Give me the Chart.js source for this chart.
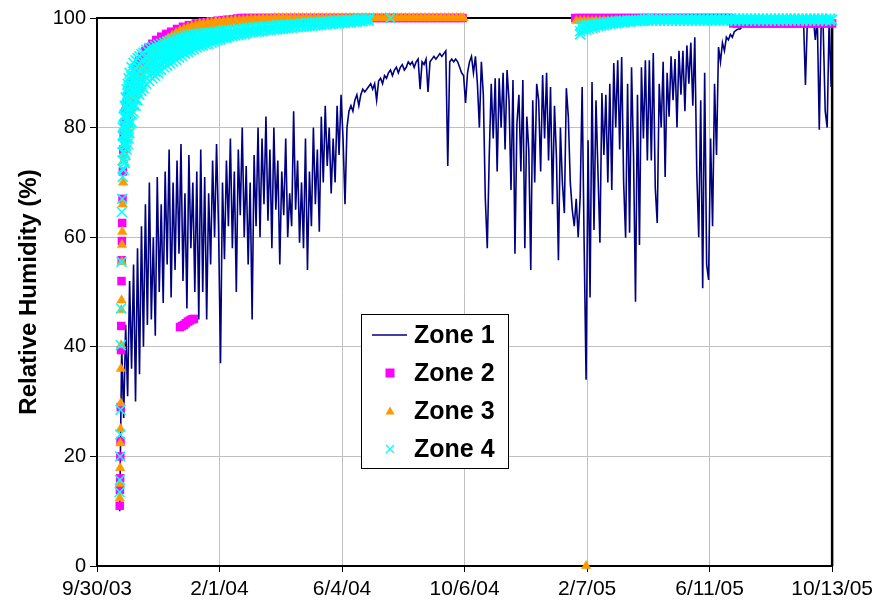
<!DOCTYPE html>
<html>
<head>
<meta charset="utf-8">
<script src="https://cdn.jsdelivr.net/npm/chart.js@4.4.1/dist/chart.umd.min.js"></script>
<style>
  html, body { margin: 0; padding: 0; background: #ffffff; }
  canvas { display: block; }
</style>
</head>
<body>
<canvas id="rh" width="878" height="608"></canvas>
<script>
// Time axis: days since 9/30/03, labelled every 124 days
const xTickLabels = ['9/30/03', '2/1/04', '6/4/04', '10/6/04', '2/7/05', '6/11/05', '10/13/05'];
const xTickStepDays = 124;
const yTicks = [0, 20, 40, 60, 80, 100];

// Zone 1 relative humidity (%), one reading every 2 days starting on day 23
const zone1StartDay = 23;
const zone1StepDays = 2;
const zone1 = [
  10, 40, 27, 44, 31, 52, 36, 55, 30, 58,            // day 23
  35, 62, 40, 66, 44, 70, 45, 60, 42, 71,            // day 43
  50, 66, 48, 72, 55, 76, 49, 70, 54, 74,            // day 63
  57, 77, 52, 68, 47, 75, 58, 70, 50, 72,            // day 83
  45, 76, 50, 71, 45, 68, 55, 74, 60, 77,            // day 103
  62, 37, 70, 56, 74, 62, 78, 58, 72, 50,            // day 123
  76, 64, 80, 60, 73, 55, 70, 45, 75, 62,            // day 143
  80, 60, 78, 66, 82, 63, 76, 58, 80, 65,            // day 163
  74, 55, 72, 64, 78, 60, 68, 62, 83, 65,            // day 183
  74, 59, 70, 58, 78, 54, 72, 62, 80, 66,            // day 203
  76, 61, 82, 70, 84, 73, 80, 68, 78, 70,            // day 223
  84, 75, 86, 78, 66, 80, 83, 84, 83, 85,            // day 243
  86, 84, 86, 87, 86.5, 87, 87.5, 88, 87, 88,        // day 263
  85, 88.5, 89, 88, 89.5, 89, 90, 90.5, 89.5, 90.5,  // day 283
  91, 90, 91, 91.5, 90.5, 91, 92, 91.5, 92, 91,      // day 303
  92, 92.5, 87, 92, 91.5, 92.5, 86.5, 92, 92.5, 93,  // day 323
  92.5, 93, 93.5, 93, 93.5, 94, 73, 92, 92.5, 92,    // day 343
  92.5, 92, 91, 90, 89.5, 84.5, 90, 92, 93, 90,      // day 363
  93, 88, 80, 92, 86, 67, 58, 75, 88, 78,            // day 383
  89, 72, 89, 80, 90, 76, 90.5, 85, 68.6, 88.7,      // day 403
  57, 80.8, 86, 72, 88.7, 58, 82, 76, 54, 85,        // day 423
  70, 88, 85, 72, 89.6, 78, 90, 74, 87.4, 66,        // day 443
  84, 74.6, 55.8, 80, 69.9, 64.4, 87.2, 82, 70, 65,  // day 463
  62, 67, 60, 67.3, 87.4, 59, 34, 77.7, 49, 88.3,    // day 483
  61.3, 85, 72, 59, 86.3, 75, 86, 70, 88, 68.6,      // day 503
  91.8, 80, 92.3, 76, 92.9, 70, 59.9, 88, 60.8, 91,  // day 523
  75, 48.2, 86, 58.6, 91, 78, 92.3, 74, 92.3, 74,    // day 543
  93.6, 69, 62.6, 88, 80, 92, 71, 90, 82, 93,        // day 563
  85, 92.5, 80, 94, 86, 94, 83, 95, 88, 95.5,        // day 583
  84, 96.5, 72, 60, 85, 50.7, 90, 55, 52.2, 78,      // day 603
  62, 88, 75, 94.7, 92, 95.5, 94, 96.5, 96, 97,      // day 623
  96.5, 97.5, 97.8, 98, 98, 98.5, 98.5, 99, 99, 99.5, // day 643
  100, 100, 100, 100, 100, 100, 100, 100, 100, 100,  // day 663
  100, 100, 100, 100, 100, 100, 100, 100, 100, 100,  // day 683
  100, 100, 100, 100, 100, 100, 100, 87.8, 100, 100, // day 703
  100, 100, 96, 100, 79.6, 100, 98, 83, 80, 100,     // day 723
  87.4                                               // day 743
];

// Zones 2-4: each row is [day, reading, reading, ...] in relative humidity %
const zone2 = [
  [23.0, 11], [23.2, 13.9], [23.4, 16], [23.6, 20], [23.8, 22.8], [24.0, 29], [24.3, 39.4], [24.5, 43.8],
  [24.8, 52], [25.0, 55.8], [25.2, 59.3], [25.5, 62.6], [25.8, 67], [26.2, 72], [26.6, 76],
  [27, 79, 76], [28, 81, 78], [29, 83, 80], [30, 84.5, 81.5], [31, 85.5, 83], [32, 86.3, 84], [33, 87, 85],
  [35, 88.5, 86.5], [37, 89.5, 87.8], [39, 90.5, 88.8], [41, 91.2, 89.5], [43, 92.3, 90.3], [46, 93, 91.3],
  [49, 94, 92.2], [52, 94.6, 93], [56, 95.3, 93.8], [60, 96, 94.5], [65, 96.6, 95.3], [70, 97.1, 96],
  [75, 97.5, 96.5], [81, 98, 97], [87, 98.4, 97.5], [93, 98.7, 98], [100, 99, 98.4], [107, 99.2, 98.7],
  [115, 99.4, 99], [122, 99.5, 99.2], [127, 99.6, 99.3], [132, 99.7], [138, 99.8], [142, 99.9],
  [84, 43.6], [86, 43.8], [88, 44], [90, 44.3], [92, 44.6], [94, 44.8], [96, 45], [98, 45.1],
  [146, 100], [150, 100], [154, 100], [158, 100], [162, 100], [166, 100], [170, 100], [174, 100], [178, 100], [182, 100],
  [186, 100], [190, 100], [194, 100], [198, 100], [202, 100], [206, 100], [210, 100], [214, 100], [218, 100], [222, 100],
  [226, 100], [230, 100], [234, 100], [238, 100], [242, 100], [246, 100], [250, 100], [254, 100], [258, 100], [262, 100],
  [266, 100], [270, 100], [274, 100], [278, 100], [282, 100], [286, 100], [290, 100], [294, 100], [298, 100], [302, 100],
  [306, 100], [310, 100], [314, 100], [318, 100], [322, 100], [326, 100], [330, 100], [334, 100], [338, 100], [342, 100],
  [346, 100], [350, 100], [354, 100], [358, 100], [362, 100], [366, 100], [370, 100],
  [484, 100], [488, 100], [492, 100], [496, 100], [500, 100], [504, 100], [508, 100], [512, 100], [516, 100], [520, 100],
  [524, 100], [528, 100], [532, 100], [536, 100], [540, 100], [544, 100], [548, 100], [552, 100], [556, 100], [560, 100],
  [564, 100], [568, 100], [572, 100], [576, 100], [580, 100], [584, 100], [588, 100], [592, 100], [596, 100], [600, 100],
  [604, 100], [608, 100], [612, 100], [616, 100], [620, 100], [624, 100], [628, 100], [632, 100], [636, 100], [640, 100],
  [644, 99], [648, 99], [652, 99], [656, 99], [660, 99], [664, 99], [668, 99], [672, 99], [676, 99], [680, 99],
  [684, 99], [688, 99], [692, 99], [696, 99], [700, 99], [704, 99], [708, 99], [712, 99], [716, 99], [720, 99],
  [724, 99], [728, 99], [732, 99], [736, 99], [740, 99], [744, 99]
];

const zone3 = [
  [23.0, 12.4], [23.2, 15], [23.4, 17.9], [23.6, 22.4], [23.8, 25], [24.0, 29.7], [24.2, 36], [24.4, 40.3],
  [24.6, 46.7], [24.8, 48.5], [25.1, 55.5], [25.3, 58.6], [25.6, 61], [26, 66], [26.5, 70], [27, 74],
  [28, 77, 75], [30, 80, 78], [32, 82.5, 80.5], [35, 85.5, 83.5], [38, 87.5, 85.8], [41, 89, 87.5],
  [45, 90.7, 89], [50, 92.3, 90.6], [55, 93.6, 91.9], [60, 94.5, 93.2], [64, 95.1, 93.9], [68, 95.7, 94.6],
  [72, 96.3, 95.2], [76, 96.8, 95.7], [80, 97.3, 96.2], [84, 97.7, 96.6], [88, 98, 97], [92, 98.3, 97.4],
  [96, 98.5, 97.7], [100, 98.7, 97.9], [104, 98.9, 98.1], [108, 99, 98.3], [112, 99.1, 98.4], [116, 99.2, 98.5],
  [120, 99.3, 98.6], [124, 99.3, 98.7], [128, 99.4, 98.8], [132, 99.5, 98.9], [136, 99.5, 99], [140, 99.6, 99.1],
  [144, 99.6, 99.2], [148, 99.7, 99.3], [152, 99.7, 99.3], [156, 99.8, 99.4], [160, 99.8, 99.4], [164, 99.8, 99.5],
  [168, 99.9, 99.5], [172, 99.9, 99.5], [176, 99.9, 99.6], [180, 100, 99.6], [184, 100, 99.6], [188, 100, 99.7],
  [192, 100, 99.7],
  [196, 100], [200, 100], [204, 100], [208, 100], [212, 100], [216, 100], [220, 100], [224, 100], [228, 100], [232, 100],
  [236, 100], [240, 100], [244, 100], [248, 100], [252, 100], [256, 100], [260, 100], [264, 100], [268, 100], [272, 100],
  [276, 100], [280, 100], [284, 100], [288, 100], [292, 100], [296, 100], [300, 100], [304, 100], [308, 100], [312, 100],
  [316, 100], [320, 100], [324, 100], [328, 100], [332, 100], [336, 100], [340, 100], [344, 100], [348, 100], [352, 100],
  [356, 100], [360, 100], [364, 100], [368, 100], [371, 100],
  [495, 0],
  [485, 99.5], [489, 99.5], [493, 99.5], [497, 99.5], [501, 99.5], [505, 99.5], [509, 99.5], [513, 99.5], [517, 99.5], [521, 99.5],
  [525, 99.5], [529, 99.5], [533, 99.5], [537, 99.5], [541, 99.5], [545, 99.5], [549, 99.5], [553, 99.5], [557, 99.5], [561, 99.5],
  [569, 99.5], [577, 99.5], [585, 99.5], [593, 99.5], [601, 99.5], [609, 99.5], [617, 99.5], [625, 99.5], [633, 99.5], [641, 99.5],
  [649, 99.5], [657, 99.5], [665, 99.5], [673, 99.5], [681, 99.5], [689, 99.5], [697, 99.5], [705, 99.5], [713, 99.5], [721, 99.5],
  [729, 99.5], [737, 99.5], [743, 99.5]
];

const zone4 = [
  [23.0, 13.5], [23.2, 15.7], [23.4, 20], [23.6, 24], [23.8, 28.5], [24.1, 40.3], [24.4, 47], [24.8, 55.5],
  [25.2, 64.6], [25.5, 67],
  [26, 80, 78.5, 77, 75.5, 74, 72.5, 71],
  [27, 82, 80.4, 78.8, 77.2, 75.6, 74, 72.3],
  [28, 84, 82.3, 80.6, 78.9, 77.2, 75.4, 73.5],
  [29, 85.5, 83.8, 82.1, 80.4, 78.6, 76.8, 75],
  [30, 87, 85.2, 83.4, 81.6, 79.8, 77.9, 76],
  [31, 88, 86.2, 84.4, 82.6, 80.8, 78.9, 77],
  [32, 89, 87.2, 85.4, 83.6, 81.8, 79.9, 78],
  [33, 90, 88.2, 86.4, 84.6, 82.8, 80.9, 79],
  [35, 91, 89.3, 87.6, 85.9, 84.2, 82.5, 81],
  [37, 91.8, 90.2, 88.6, 87, 85.4, 84, 82.8],
  [39, 92.3, 90.8, 89.3, 87.8, 86.3, 85, 84],
  [41, 92.7, 91.2, 89.7, 88.2, 86.7, 85],
  [43, 93, 91.6, 90.2, 88.8, 87.4, 86],
  [45, 93.4, 92, 90.6, 89.2, 87.9, 86.7],
  [47, 93.7, 92.4, 91.1, 89.8, 88.5, 87.2],
  [50, 94.2, 92.9, 91.6, 90.3, 89.1, 88],
  [53, 94.5, 93.2, 91.9, 90.7, 89.6, 88.5],
  [56, 94.7, 93.4, 92.1, 90.9, 89.9, 89],
  [59, 94.9, 93.6, 92.3, 91.1, 90.2, 89.4],
  [62, 95.1, 93.8, 92.6, 91.5, 90.6, 89.9],
  [65, 95.3, 94.1, 92.9, 91.8, 90.5],
  [68, 95.5, 94.3, 93.2, 92.1, 91],
  [71, 95.7, 94.5, 93.4, 92.3, 91.3],
  [74, 95.9, 94.8, 93.7, 92.6, 91.7],
  [77, 96, 94.9, 93.9, 92.9, 92],
  [80, 96.2, 95.1, 94.1, 93.2, 92.4],
  [83, 96.4, 95.3, 94.3, 93.5, 92.8],
  [86, 96.5, 95.5, 94.6, 93.8, 93.1],
  [89, 96.7, 95.7, 94.8, 94.1, 93.5],
  [92, 96.9, 95.9, 95, 94.3, 93.8],
  [95, 97, 96, 95.1, 94.1],
  [98, 97.1, 96.1, 95.2, 94.3],
  [101, 97.1, 96.2, 95.4, 94.6],
  [104, 97.2, 96.4, 95.6, 94.8],
  [107, 97.2, 96.4, 95.7, 95],
  [110, 97.3, 96.5, 95.8, 95.2],
  [113, 97.3, 96.6, 95.9, 95.3],
  [116, 97.4, 96.7, 96.1, 95.5],
  [119, 97.5, 96.8, 96.2, 95.7],
  [122, 97.5, 96.9, 96.4, 95.9],
  [125, 97.6, 97, 96.5, 96.1],
  [128, 97.7, 97.1, 96.6, 96.3],
  [131, 97.7, 97.2, 96.7, 96.4],
  [134, 97.8, 97.2, 96.6], [137, 97.8, 97.3, 96.7],
  [140, 97.9, 96.8], [143, 98, 96.9], [146, 98, 97], [149, 98.1, 97.1], [152, 98.2, 97.2],
  [155, 98.2, 97.3], [158, 98.3, 97.4], [161, 98.3, 97.5], [164, 98.4, 97.5], [167, 98.4, 97.6],
  [170, 98.5, 97.7], [173, 98.5, 97.7], [176, 98.6, 97.8], [179, 98.6, 97.9], [182, 98.7, 97.9],
  [185, 98.7, 98], [188, 98.7, 98], [191, 98.8, 98.1], [194, 98.8, 98.2], [197, 98.8, 98.2],
  [200, 98.9, 98.3], [203, 98.9, 98.3], [206, 99, 98.4], [209, 99, 98.4], [212, 99.1, 98.5],
  [215, 99.1, 98.5], [218, 99.2, 98.6], [221, 99.2, 98.6], [224, 99.2, 98.7], [227, 99.3, 98.7],
  [230, 99.3, 98.8], [233, 99.3, 98.8], [236, 99.4, 98.9], [239, 99.4, 98.9], [242, 99.5, 99],
  [245, 99.5, 99], [248, 99.6, 99.1], [251, 99.6, 99.1], [254, 99.6, 99.2], [257, 99.7, 99.2],
  [260, 99.7, 99.3], [263, 99.7, 99.3], [266, 99.8, 99.4], [269, 99.8, 99.4], [272, 99.8, 99.5],
  [275, 99.9, 99.5],
  [297, 100],
  [489, 98.6, 97.6, 97], [492, 98.6, 97.8], [495, 98.7, 97.9], [498, 98.8, 98], [501, 98.8, 98.2],
  [504, 98.9, 98.3], [507, 99, 98.5], [510, 99, 98.6], [513, 99.1, 98.7], [516, 99.2, 98.8],
  [519, 99.2, 98.9], [522, 99.3, 99], [525, 99.4, 99], [528, 99.4, 99.1], [531, 99.5, 99.2],
  [534, 99.5, 99.2], [537, 99.6, 99.3], [540, 99.6, 99.3], [543, 99.6, 99.4], [546, 99.7, 99.4],
  [549, 99.7, 99.5], [552, 99.7, 99.5], [555, 99.8, 99.5],
  [558, 99.9, 99.5], [562, 99.9, 99.5], [566, 99.9, 99.5], [570, 99.9, 99.5], [574, 99.9, 99.5],
  [578, 99.9, 99.5], [582, 99.9, 99.5], [586, 99.9, 99.5], [590, 99.9, 99.5], [594, 99.9, 99.5],
  [598, 99.9, 99.5], [602, 99.9, 99.5], [606, 99.9, 99.5], [610, 99.9, 99.5], [614, 99.9, 99.5],
  [618, 99.9, 99.5], [622, 99.9, 99.5], [626, 99.9, 99.5], [630, 99.9, 99.5], [634, 99.9, 99.5],
  [638, 99.9, 99.5], [642, 99.9, 99.5], [646, 99.9, 99.5], [650, 99.9, 99.5], [654, 99.9, 99.5],
  [658, 99.9, 99.5], [662, 99.9, 99.5], [666, 99.9, 99.5], [670, 99.9, 99.5], [674, 99.9, 99.5],
  [678, 99.9, 99.5], [682, 99.9, 99.5], [686, 99.9, 99.5], [690, 99.9, 99.5], [694, 99.9, 99.5],
  [698, 99.9, 99.5], [702, 99.9, 99.5], [706, 99.9, 99.5], [710, 99.9, 99.5], [714, 99.9, 99.5],
  [718, 99.9, 99.5], [722, 99.9, 99.5], [726, 99.9, 99.5], [730, 99.9, 99.5], [734, 99.9, 99.5],
  [738, 99.9, 99.5], [742, 99.9, 99.5], [744, 99.7]
];

const seriesNames = ['Zone 1', 'Zone 2', 'Zone 3', 'Zone 4'];
const seriesColors = ['#000080', '#FF00FF', '#FF9900', '#00FFFF'];

const expandRows = rows => rows.flatMap(([day, ...readings]) => readings.map(y => ({ x: day, y })));
const zone1Points = zone1.map((y, i) => ({ x: zone1StartDay + i * zone1StepDays, y }));

const FONT = "'Liberation Sans', Arial, sans-serif";
Chart.defaults.font.family = FONT;
Chart.defaults.color = '#000000';

// Black frame on the top and right of the plot area
const plotFrame = {
  id: 'plotFrame',
  beforeDatasetsDraw(chart) {
    const { ctx, chartArea: a } = chart;
    ctx.save();
    ctx.strokeStyle = '#000000';
    ctx.lineWidth = 2;
    ctx.beginPath();
    ctx.moveTo(a.left, a.top);
    ctx.lineTo(a.right, a.top);
    ctx.stroke();
    ctx.lineWidth = 2.5;
    ctx.beginPath();
    ctx.moveTo(a.right, a.top);
    ctx.lineTo(a.right, a.bottom);
    ctx.stroke();
    ctx.restore();
  }
};

// Boxed legend inside the plot area
const boxLegend = {
  id: 'boxLegend',
  afterDraw(chart) {
    const { ctx } = chart;
    const box = { x: 361.5, y: 314.5, w: 147, h: 154 };
    const rows = [335, 373, 411, 449];
    const symX = 390;
    const textX = 414;
    ctx.save();
    ctx.fillStyle = '#ffffff';
    ctx.fillRect(box.x, box.y, box.w, box.h);
    ctx.strokeStyle = '#000000';
    ctx.lineWidth = 1;
    ctx.strokeRect(box.x, box.y, box.w, box.h);
    chart.data.datasets.forEach((ds, i) => {
      const y = rows[i];
      ctx.strokeStyle = seriesColors[i];
      ctx.fillStyle = seriesColors[i];
      if (i === 0) {
        ctx.lineWidth = 1.5;
        ctx.beginPath();
        ctx.moveTo(372, y);
        ctx.lineTo(407, y);
        ctx.stroke();
      } else if (i === 1) {
        ctx.fillRect(symX - 4.5, y - 4.5, 9, 9);
      } else if (i === 2) {
        ctx.beginPath();
        ctx.moveTo(symX, y - 4.5);
        ctx.lineTo(symX + 4.5, y + 3.5);
        ctx.lineTo(symX - 4.5, y + 3.5);
        ctx.closePath();
        ctx.fill();
      } else {
        ctx.lineWidth = 1.2;
        ctx.beginPath();
        ctx.moveTo(symX - 4, y - 4);
        ctx.lineTo(symX + 4, y + 4);
        ctx.moveTo(symX + 4, y - 4);
        ctx.lineTo(symX - 4, y + 4);
        ctx.stroke();
      }
      ctx.fillStyle = '#000000';
      ctx.font = 'bold 25px ' + FONT;
      ctx.textBaseline = 'middle';
      ctx.textAlign = 'left';
      ctx.fillText(ds.label, textX, y + 1);
    });
    ctx.restore();
  }
};

new Chart(document.getElementById('rh'), {
  type: 'scatter',
  data: {
    datasets: [
      {
        label: seriesNames[0],
        data: zone1Points,
        showLine: true,
        borderColor: seriesColors[0],
        borderWidth: 1.6,
        pointRadius: 0,
        tension: 0,
        order: 4,
        clip: false
      },
      {
        label: seriesNames[1],
        data: expandRows(zone2),
        pointStyle: 'rect',
        pointRadius: 6,
        backgroundColor: seriesColors[1],
        borderColor: seriesColors[1],
        borderWidth: 0,
        order: 3,
        clip: false
      },
      {
        label: seriesNames[2],
        data: expandRows(zone3),
        pointStyle: 'triangle',
        pointRadius: 5.5,
        backgroundColor: seriesColors[2],
        borderColor: seriesColors[2],
        borderWidth: 0.5,
        order: 2,
        clip: false
      },
      {
        label: seriesNames[3],
        data: expandRows(zone4),
        pointStyle: 'crossRot',
        pointRadius: 7,
        backgroundColor: seriesColors[3],
        borderColor: seriesColors[3],
        borderWidth: 1.6,
        order: 1,
        clip: false
      }
    ]
  },
  options: {
    responsive: false,
    animation: false,
    devicePixelRatio: 1,
    events: [],
    layout: { padding: { top: 18, right: 44, left: 0, bottom: 0 } },
    plugins: {
      legend: { display: false },
      tooltip: { enabled: false }
    },
    scales: {
      x: {
        type: 'linear',
        min: 0,
        max: xTickStepDays * (xTickLabels.length - 1),
        afterFit(scale) { scale.height = 42; },
        afterBuildTicks(scale) {
          scale.ticks = xTickLabels.map((_, i) => ({ value: i * xTickStepDays }));
        },
        ticks: {
          autoSkip: false,
          maxRotation: 0,
          padding: 5,
          font: { size: 21 },
          color: '#000000',
          callback: (v) => xTickLabels[Math.round(v / xTickStepDays)]
        },
        grid: { color: '#c0c0c0', lineWidth: 1, tickLength: 6, tickColor: '#000000' },
        border: { display: true, color: '#000000', width: 2 }
      },
      y: {
        min: 0,
        max: 100,
        afterFit(scale) { scale.width = 97; },
        afterBuildTicks(scale) {
          scale.ticks = yTicks.map(v => ({ value: v }));
        },
        ticks: { padding: 4, font: { size: 20 }, color: '#000000' },
        grid: { color: '#c0c0c0', lineWidth: 1, tickLength: 7, tickColor: '#000000' },
        border: { display: true, color: '#000000', width: 2 },
        title: {
          display: true,
          text: 'Relative Humidity (%)',
          font: { size: 24, weight: 'bold' },
          color: '#000000',
          padding: { top: 15, bottom: 0 }
        }
      }
    }
  },
  plugins: [plotFrame, boxLegend]
});
</script>
</body>
</html>
